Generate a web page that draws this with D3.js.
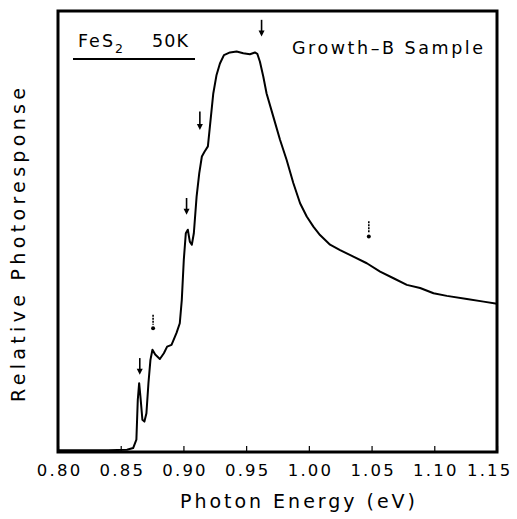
<!DOCTYPE html>
<html><head><meta charset="utf-8">
<script src="https://cdn.jsdelivr.net/npm/d3@7"></script>
<style>body{margin:0;background:#fff}svg{display:block}text{font-family:"DejaVu Sans",sans-serif;fill:#000}</style>
</head><body>
<script>
const energy = [0.800,0.840,0.855,0.8599,0.8625,0.8636,0.8647,0.8657,0.8673,0.8689,0.8705,0.8721,0.8737,0.8753,0.8775,0.8812,0.8844,0.8870,0.8905,0.8945,0.8971,0.8987,0.9003,0.9019,0.9035,0.9051,0.9067,0.9083,0.9105,0.9126,0.9147,0.9168,0.9195,0.9211,0.9238,0.9264,0.9291,0.9323,0.9371,0.9424,0.9477,0.9530,0.9570,0.9589,0.9610,0.9637,0.9663,0.9716,0.9770,0.9823,0.9876,0.9930,0.9983,1.0036,1.0089,1.0169,1.0249,1.0355,1.0462,1.0568,1.0675,1.0781,1.0887,1.0994,1.1100,1.1260,1.1393,1.150];
const response = [0.004,0.004,0.005,0.009,0.028,0.118,0.156,0.126,0.073,0.069,0.088,0.156,0.209,0.232,0.221,0.211,0.224,0.239,0.243,0.270,0.292,0.345,0.436,0.496,0.504,0.477,0.470,0.496,0.579,0.632,0.670,0.681,0.693,0.738,0.813,0.855,0.881,0.900,0.906,0.908,0.904,0.902,0.906,0.903,0.885,0.851,0.813,0.761,0.708,0.662,0.610,0.564,0.534,0.511,0.492,0.470,0.458,0.443,0.428,0.409,0.394,0.379,0.372,0.360,0.354,0.347,0.341,0.336];
const xTicks = [0.80,0.85,0.90,0.95,1.00,1.05,1.10,1.15];
const arrowE = [0.8652,0.8758,0.9025,0.9131,0.9623,1.0478];
const arrowTop = [0.213,0.311,0.576,0.772,0.980,0.523];
const arrowBot = [0.175,0.277,0.538,0.730,0.942,0.485];
const arrowDot = [false,true,false,false,false,true];

const W=517,H=519;
const m={l:58,r:20,t:11,b:67};
const svg=d3.select("body").append("svg").attr("width",W).attr("height",H);
const x=d3.scaleLinear().domain([0.80,1.15]).range([m.l,W-m.r]);
const y=d3.scaleLinear().domain([0,1]).range([H-m.b,m.t]);

// frame
svg.append("rect").attr("x",x(0.80)).attr("y",y(1)).attr("width",x(1.15)-x(0.80)).attr("height",y(0)-y(1))
  .attr("fill","none").attr("stroke","#000").attr("stroke-width",3);

const ax=svg.append("g").attr("transform",`translate(0,${y(0)})`)
  .call(d3.axisBottom(x).tickValues(xTicks).tickFormat(d3.format(".2f")).tickSizeInner(-6).tickSizeOuter(0).tickPadding(12));
ax.select(".domain").remove();
ax.selectAll("line").attr("stroke","#000").attr("stroke-width",1.2);
ax.selectAll("text").attr("font-size",16.5).style("letter-spacing","2.2px").attr("dx",1.1).attr("fill","#000");
ax.selectAll(".tick").filter(d=>d===xTicks[xTicks.length-1]).select("text").attr("text-anchor","end").attr("dx",15);

const line=d3.line().x((d,i)=>x(energy[i])).y(d=>y(d));
svg.append("path").datum(response).attr("d",line).attr("fill","none").attr("stroke","#000").attr("stroke-width",2).attr("stroke-linejoin","round");

// arrows
arrowE.forEach((e,i)=>{
  const xx=x(e), y1=y(arrowTop[i]), y2=y(arrowBot[i]);
  if(arrowDot[i]){
    svg.append("line").attr("x1",xx).attr("x2",xx).attr("y1",y1).attr("y2",y2-5).attr("stroke","#000").attr("stroke-width",1.6).attr("stroke-dasharray","2,1");
    svg.append("circle").attr("cx",xx).attr("cy",y2-1.5).attr("r",2).attr("fill","#000");
  } else {
    svg.append("line").attr("x1",xx).attr("x2",xx).attr("y1",y1).attr("y2",y2-3).attr("stroke","#000").attr("stroke-width",1.6);
    svg.append("path").attr("d",`M${xx-3},${y2-6}L${xx+3},${y2-6}L${xx},${y2}Z`).attr("fill","#000");
  }
});

// labels
svg.append("text").attr("x",78).attr("y",47).attr("font-size",17.5).attr("textLength",35).attr("lengthAdjust","spacing").text("FeS");
svg.append("text").attr("x",115).attr("y",52.5).attr("font-size",12.5).text("2");
svg.append("text").attr("x",152).attr("y",47).attr("font-size",17.5).attr("textLength",36).attr("lengthAdjust","spacing").text("50K");
svg.append("line").attr("x1",73).attr("x2",195).attr("y1",59).attr("y2",59).attr("stroke","#000").attr("stroke-width",2);
svg.append("text").attr("x",292).attr("y",54).attr("font-size",17.5).attr("textLength",191).attr("lengthAdjust","spacing").text("Growth\u2013B Sample");

svg.append("text").attr("x",180).attr("y",508).attr("font-size",19).attr("textLength",235).attr("lengthAdjust","spacing").text("Photon Energy (eV)");
svg.append("text").attr("transform",`translate(25,402) rotate(-90)`).attr("font-size",19).attr("textLength",314).attr("lengthAdjust","spacing").text("Relative Photoresponse");
</script>
</body></html>
